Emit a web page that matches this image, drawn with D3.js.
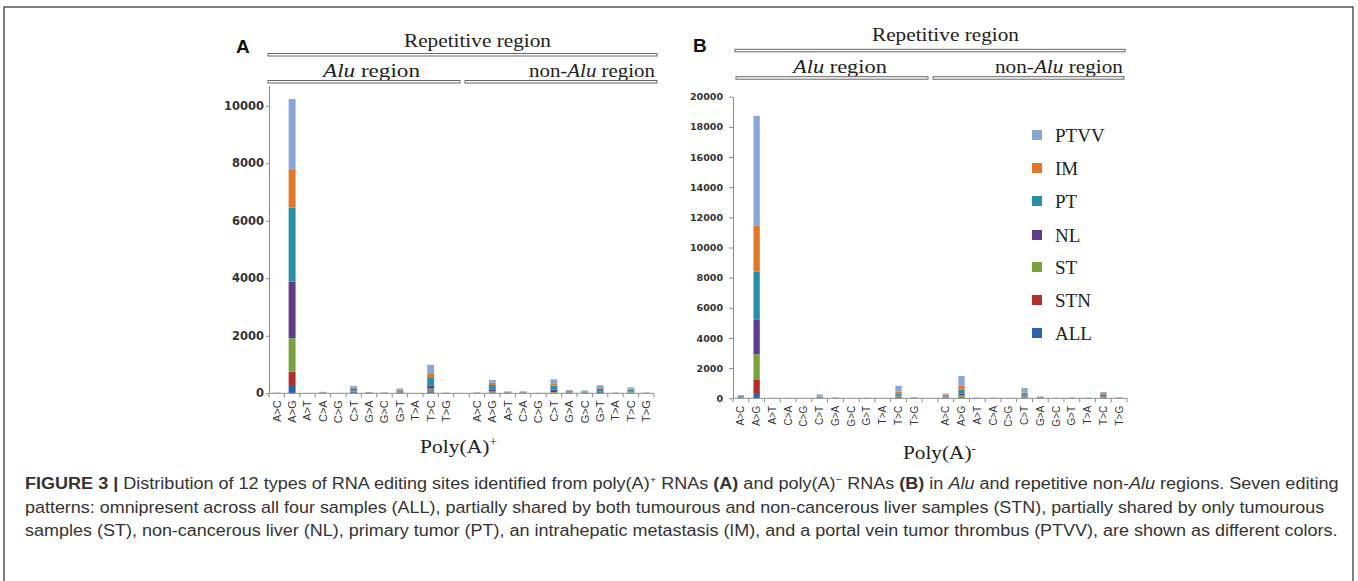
<!DOCTYPE html>
<html>
<head>
<meta charset="utf-8">
<script src="https://cdn.jsdelivr.net/npm/d3@7"></script>
<style>
  body { margin: 0; padding: 0; background: #fff; }
  svg { display: block; }
</style>
</head>
<body>
<script>
// substitution types, same order in both regions
var subs = ["A>C", "A>G", "A>T", "C>A", "C>G", "C>T", "G>A", "G>C", "G>T", "T>A", "T>C", "T>G"];
// stacking order, bottom to top
var patterns = ["ALL", "STN", "ST", "NL", "PT", "IM", "PTVV"];
var patternColors = ["#2c62a9", "#b1302d", "#79a13c", "#5e3d8a", "#2b8ea7", "#e0782a", "#8aa6d7"];
var legendOrder = ["PTVV", "IM", "PT", "NL", "ST", "STN", "ALL"];
var ticksA = [0, 2000, 4000, 6000, 8000, 10000];
var ticksB = [0, 2000, 4000, 6000, 8000, 10000, 12000, 14000, 16000, 18000, 20000];

// panel A, poly(A)+
var aAlu = {
  ALL:  [5, 255, 2, 10, 1, 40, 10, 8, 30, 1, 40, 5],
  STN:  [2, 500, 1, 4, 0, 20, 4, 3, 10, 1, 30, 2],
  ST:   [3, 1160, 1, 6, 1, 20, 6, 4, 10, 1, 90, 3],
  NL:   [3, 1970, 2, 6, 1, 25, 6, 4, 15, 1, 110, 3],
  PT:   [3, 2570, 2, 8, 1, 70, 6, 5, 40, 1, 290, 3],
  IM:   [2, 1335, 1, 6, 0, 30, 4, 3, 30, 0, 140, 2],
  PTVV: [4, 2445, 2, 10, 1, 50, 6, 4, 35, 1, 290, 3]
};
var aNonAlu = {
  ALL:  [5, 20, 5, 5, 2, 15, 15, 15, 40, 3, 20, 3],
  STN:  [3, 15, 5, 5, 1, 10, 5, 5, 10, 2, 10, 2],
  ST:   [4, 45, 10, 10, 2, 20, 10, 5, 10, 3, 15, 3],
  NL:   [4, 60, 10, 10, 2, 80, 10, 10, 15, 3, 15, 3],
  PT:   [5, 150, 10, 10, 3, 140, 30, 25, 90, 5, 70, 5],
  IM:   [4, 80, 15, 15, 2, 60, 15, 15, 50, 4, 30, 4],
  PTVV: [5, 95, 15, 15, 3, 160, 30, 25, 65, 5, 50, 5]
};
// panel B, poly(A)-
var bAlu = {
  ALL:  [30, 290, 4, 4, 3, 20, 8, 3, 5, 3, 60, 10],
  STN:  [20, 925, 3, 3, 2, 10, 5, 2, 4, 2, 40, 5],
  ST:   [40, 1700, 4, 4, 3, 10, 7, 3, 5, 3, 40, 10],
  NL:   [20, 2320, 4, 4, 3, 10, 8, 3, 5, 3, 35, 10],
  PT:   [40, 3160, 5, 5, 3, 40, 12, 3, 7, 3, 150, 15],
  IM:   [40, 3050, 5, 5, 3, 20, 8, 3, 6, 3, 110, 10],
  PTVV: [30, 7290, 5, 5, 3, 150, 12, 3, 8, 3, 395, 20]
};
var bNonAlu = {
  ALL:  [40, 50, 5, 5, 3, 40, 15, 4, 7, 5, 40, 8],
  STN:  [20, 40, 5, 5, 2, 30, 10, 3, 5, 5, 30, 5],
  ST:   [50, 110, 5, 5, 3, 50, 15, 4, 7, 5, 30, 8],
  NL:   [30, 100, 5, 5, 3, 55, 15, 4, 7, 5, 30, 8],
  PT:   [60, 270, 7, 7, 3, 110, 25, 5, 8, 7, 90, 10],
  IM:   [60, 260, 6, 6, 3, 110, 20, 5, 8, 6, 70, 10],
  PTVV: [50, 650, 7, 7, 3, 290, 30, 5, 8, 7, 130, 11]
};

var width = 1358, height = 581;
var serif = "'Liberation Serif', 'Times New Roman', serif";
var sans = "'Liberation Sans', Arial, sans-serif";
var axisGrey = "#8c8c8c";

var svg = d3.select("body").append("svg")
    .attr("width", width)
    .attr("height", height);

// outer frame of the figure (no bottom edge visible)
svg.append("path")
    .attr("d", "M4,590 V7 H1353 V590")
    .attr("fill", "none")
    .attr("stroke", "#555")
    .attr("stroke-width", 1.5);

// stretch a text to a given width horizontally
function fitText(g, x, y, w) {
  var t = g.select("text");
  var len = t.node().getComputedTextLength();
  g.attr("transform", "translate(" + x + "," + y + ") scale(" + (w / len) + ",1)");
}

function label(parent, parts, x, y, w, anchor, size, family) {
  var g = parent.append("g");
  var t = g.append("text")
      .attr("text-anchor", anchor)
      .attr("font-family", family)
      .attr("font-size", size)
      .attr("fill", "#222");
  parts.forEach(function(p) {
    var s = t.append("tspan").text(p.t);
    if (p.i) s.attr("font-style", "italic");
    if (p.b) s.attr("font-weight", "bold");
    if (p.sup) s.attr("baseline-shift", "super").attr("font-size", size * 0.62);
  });
  fitText(g, x, y, w);
  return g;
}

function bracket(parent, x0, x1, y) {
  parent.append("rect")
      .attr("x", x0).attr("y", y)
      .attr("width", x1 - x0).attr("height", 2.5)
      .attr("fill", "#fff")
      .attr("stroke", "#666")
      .attr("stroke-width", 1);
}

function drawPanel(o) {
  var g = svg.append("g");
  var slots = subs.map(function(s) { return "a|" + s; })
      .concat(["gap"], subs.map(function(s) { return "n|" + s; }));

  var x = d3.scaleBand()
      .domain(slots)
      .range([o.x0, o.x1])
      .paddingInner(o.pad)
      .paddingOuter(o.pad / 2);

  var y = d3.scaleLinear()
      .domain([0, o.top])
      .range([o.yZero, o.yTop]);

  var rows = slots.map(function(s, i) {
    var r = { slot: s };
    patterns.forEach(function(p) {
      if (s === "gap") r[p] = 0;
      else r[p] = i < 12 ? o.alu[p][i] : o.non[p][i - 13];
    });
    return r;
  });

  var series = d3.stack().keys(patterns)(rows);

  g.selectAll("g.ser")
    .data(series)
    .join("g")
      .attr("class", "ser")
      .attr("fill", function(d, i) { return patternColors[i]; })
    .selectAll("rect")
    .data(function(d) { return d.filter(function(v) { return v.data.slot !== "gap"; }); })
    .join("rect")
      .attr("x", function(d) { return x(d.data.slot); })
      .attr("width", x.bandwidth())
      .attr("y", function(d) { return y(d[1]); })
      .attr("height", function(d) { return Math.max(0, y(d[0]) - y(d[1])); });

  // y axis
  var ya = g.append("g")
      .attr("transform", "translate(" + o.x0 + ",0)")
      .call(d3.axisLeft(y).tickValues(o.ticks).tickFormat(d3.format("d"))
        .tickSize(o.tick).tickSizeOuter(0).tickPadding(o.tickPad));
  ya.select(".domain").attr("stroke", axisGrey);
  ya.selectAll(".tick line").attr("stroke", axisGrey);
  ya.selectAll(".tick text")
      .attr("font-family", "'DejaVu Sans', sans-serif")
      .attr("font-weight", "bold")
      .attr("font-size", o.yFont)
      .attr("fill", "#333");

  // x axis, ticks sit between categories
  var step = x.step();
  g.append("line")
      .attr("x1", o.x0).attr("x2", o.x1)
      .attr("y1", o.yZero).attr("y2", o.yZero)
      .attr("stroke", axisGrey);
  g.selectAll("line.xt")
    .data(d3.range(slots.length + 1))
    .join("line")
      .attr("class", "xt")
      .attr("x1", function(i) { return o.x0 + i * step; })
      .attr("x2", function(i) { return o.x0 + i * step; })
      .attr("y1", o.yZero).attr("y2", o.yZero + 4)
      .attr("stroke", axisGrey);

  g.selectAll("text.xl")
    .data(slots.filter(function(s) { return s !== "gap"; }))
    .join("text")
      .attr("class", "xl")
      .attr("transform", function(s) {
        return "translate(" + (x(s) + x.bandwidth() / 2) + "," + (o.yZero + o.xLabOff) + ") rotate(-90)";
      })
      .attr("text-anchor", "end")
      .attr("dy", "0.35em")
      .attr("font-family", sans)
      .attr("font-size", o.xFont)
      .attr("fill", "#333")
      .text(function(s) { return s.split("|")[1]; });
}

drawPanel({ x0: 269, x1: 654, yZero: 393.3, yTop: 85.6, top: 10700, ticks: ticksA,
  alu: aAlu, non: aNonAlu, pad: 0.55, tick: 3, tickPad: 2, yFont: 11.5, xFont: 11, xLabOff: 7 });
drawPanel({ x0: 733, x1: 1127, yZero: 398.3, yTop: 96.7, top: 20000, ticks: ticksB,
  alu: bAlu, non: bNonAlu, pad: 0.6, tick: 4, tickPad: 6, yFont: 9.5, xFont: 10, xLabOff: 7.5 });

// headers panel A
svg.append("text").attr("x", 236).attr("y", 52.5)
    .attr("font-family", sans).attr("font-weight", "bold").attr("font-size", 19).attr("fill", "#111").text("A");
label(svg, [{ t: "Repetitive region" }], 404, 46.5, 147, "start", 18, serif);
bracket(svg, 268, 657, 53.5);
label(svg, [{ t: "Alu", i: true }, { t: " region" }], 323, 76.5, 97, "start", 18, serif);
label(svg, [{ t: "non-" }, { t: "Alu", i: true }, { t: " region" }], 529, 76.5, 126, "start", 18, serif);
bracket(svg, 268, 460, 80.5);
bracket(svg, 465, 657, 80.5);
label(svg, [{ t: "Poly(A)" }, { t: "+", sup: true }], 420, 453, 77, "start", 19, serif);

// headers panel B
svg.append("text").attr("x", 693).attr("y", 51.7)
    .attr("font-family", sans).attr("font-weight", "bold").attr("font-size", 19).attr("fill", "#111").text("B");
label(svg, [{ t: "Repetitive region" }], 872, 40.7, 147, "start", 18, serif);
bracket(svg, 735, 1125, 49.3);
label(svg, [{ t: "Alu", i: true }, { t: " region" }], 793, 73.3, 94, "start", 18, serif);
label(svg, [{ t: "non-" }, { t: "Alu", i: true }, { t: " region" }], 995, 73.3, 128, "start", 18, serif);
bracket(svg, 736, 928, 76.7);
bracket(svg, 933, 1124, 76.7);
label(svg, [{ t: "Poly(A)" }, { t: "-", sup: true }], 903, 459, 73, "start", 19, serif);

// legend
var legendY = [135, 168, 201, 235, 267, 300, 333];
var lg = svg.selectAll("g.leg")
  .data(legendOrder)
  .join("g")
    .attr("class", "leg")
    .attr("transform", function(d, i) { return "translate(1032," + legendY[i] + ")"; });
lg.append("rect")
    .attr("x", 0).attr("y", -5).attr("width", 10).attr("height", 10)
    .attr("fill", function(d) { return patternColors[patterns.indexOf(d)]; });
lg.append("text")
    .attr("x", 23).attr("y", 7)
    .attr("font-family", serif).attr("font-size", 19).attr("fill", "#222")
    .text(function(d) { return d; });

// caption
var captionLines = [
  [{ t: "FIGURE 3 |", b: true }, { t: " Distribution of 12 types of RNA editing sites identified from poly(A)" }, { t: "+", sup: true },
   { t: " RNAs " }, { t: "(A)", b: true }, { t: " and poly(A)" }, { t: "\u2212", sup: true }, { t: " RNAs " }, { t: "(B)", b: true },
   { t: " in " }, { t: "Alu", i: true }, { t: " and repetitive non-" }, { t: "Alu", i: true }, { t: " regions. Seven editing" }],
  [{ t: "patterns: omnipresent across all four samples (ALL), partially shared by both tumourous and non-cancerous liver samples (STN), partially shared by only tumourous" }],
  [{ t: "samples (ST), non-cancerous liver (NL), primary tumor (PT), an intrahepatic metastasis (IM), and a portal vein tumor thrombus (PTVV), are shown as different colors." }]
];
var captionW = [1314, 1300, 1313];
captionLines.forEach(function(parts, i) {
  var g = label(svg, parts, 25, 489 + i * 23.5, captionW[i], "start", 16, sans);
  g.select("text").attr("fill", "#333");
});
</script>
</body>
</html>
